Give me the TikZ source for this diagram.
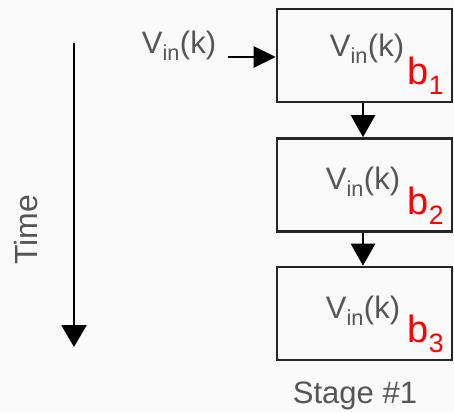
\documentclass[tikz,border=0pt]{standalone}
\usepackage{fontspec}
\setmainfont{Liberation Sans}
\usetikzlibrary{arrows.meta}
\definecolor{bg}{HTML}{FAFAFA}
\definecolor{txt}{HTML}{555555}
\definecolor{ln}{HTML}{262626}
\newcommand{\vink}{V\textsubscript{in}(k)}
\begin{document}
\begin{tikzpicture}[x=1pt,y=-1pt,
  stagebox/.style={draw=ln,line width=2.6pt,minimum width=175pt,minimum height=93pt,inner sep=0pt},
  vlabel/.style={text=txt,font=\fontsize{31}{34}\selectfont,inner sep=0pt},
  blabel/.style={text=red,font=\fontsize{38}{40}\selectfont,inner sep=0pt},
  conn/.style={draw=black,line width=2.6pt,-{Triangle[length=22pt,width=24pt]}}]
\fill[bg] (0,0) rectangle (454,412);
\useasboundingbox (0,0) rectangle (454,412);
\node[stagebox] (s1) at (364.5,55.5) {};
\node[stagebox] (s2) at (364.5,185) {};
\node[stagebox] (s3) at (364.5,313.5) {};
\node[vlabel] (t1) at (367,49) {\vink};
\node[vlabel] (t2) at (363,182) {\vink};
\node[vlabel] (t3) at (363,311) {\vink};
\node[blabel] (b1) at (426,76) {b\textsubscript{1}};
\node[blabel] (b2) at (426,206) {b\textsubscript{2}};
\node[blabel] (b3) at (426,334) {b\textsubscript{3}};
\node[vlabel] (in) at (179,46) {\vink};
\coordinate (inS) at (228,57);
\draw[conn,-{Triangle[length=22pt,width=21pt]}] (inS) -- (s1.west |- inS);
\draw[conn] (s1.south -| 363,0) -- (s2.north -| 363,0);
\draw[conn] (s2.south -| 363,0) -- (s3.north -| 363,0);
\node[vlabel,font=\fontsize{31}{34}\selectfont] (stage) at (355,396) {Stage \#1};
\coordinate (tA) at (74,43);
\coordinate (tB) at (74,347);
\draw[conn,-{Triangle[length=22pt,width=25pt]}] (tA) -- (tB);
\node[vlabel,rotate=90,font=\fontsize{32}{34}\selectfont] (time) at (26,230) {Time};
\end{tikzpicture}
\end{document}
